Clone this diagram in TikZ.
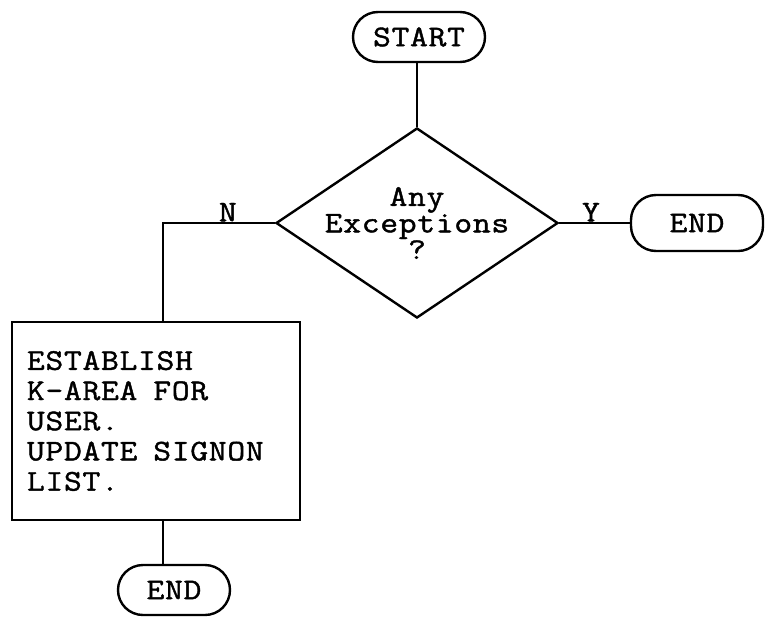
\documentclass[tikz,border=0pt]{standalone}
\usepackage{fontspec}
\setmonofont[FakeStretch=1.15,LetterSpace=2.5,FakeBold=1.4]{Latin Modern Mono}
\usetikzlibrary{shapes.geometric}
% word gap of one full typewriter cell
\newcommand\wordcell{\hspace{16pt}}
\begin{document}
\begin{tikzpicture}[x=1pt,y=-1pt,
  line width=2.4pt,
  txt/.style={font={\ttfamily\fontsize{30}{30.2}\selectfont}},
  terminal/.style={draw,rectangle,rounded corners=25pt,txt,inner sep=0pt},
  decision/.style={draw,diamond,inner sep=-4pt,align=center,aspect=1.484,
    font={\ttfamily\fontsize{30}{26.5}\selectfont}},
  process/.style={draw,rectangle,txt,align=left,inner sep=0pt,
    text width=258pt},
  branch/.style={txt,inner sep=0.5pt,anchor=south}]
\useasboundingbox (0,0) rectangle (770,624);

\node[terminal,minimum width=132pt,minimum height=50pt] (start) at (419,37) {START};
\node[decision,minimum width=282pt,minimum height=190pt] (dec) at (417,223)
  {Any\\Exceptions\\?};
\node[terminal,minimum width=132pt,minimum height=56pt] (endy) at (697,223) {END};
\node[process,minimum width=288pt,minimum height=198pt] (act) at (156,421)
  {ESTABLISH\\K-AREA\wordcell FOR\\USER.\\UPDATE\wordcell SIGNON\\LIST.};
\node[terminal,minimum width=112pt,minimum height=50pt] (endn) at (174,590) {END};

\coordinate (bend) at (163,223);

\draw (start.south -| dec.north) -- (dec.north);
\draw (dec.east) -- node[branch,pos=0.45] {Y} (endy.west);
\draw (dec.west) -- node[branch,pos=0.42] {N} (bend) -- (bend |- act.north);
\draw (bend |- act.south) -- (bend |- endn.north);
\end{tikzpicture}
\end{document}
